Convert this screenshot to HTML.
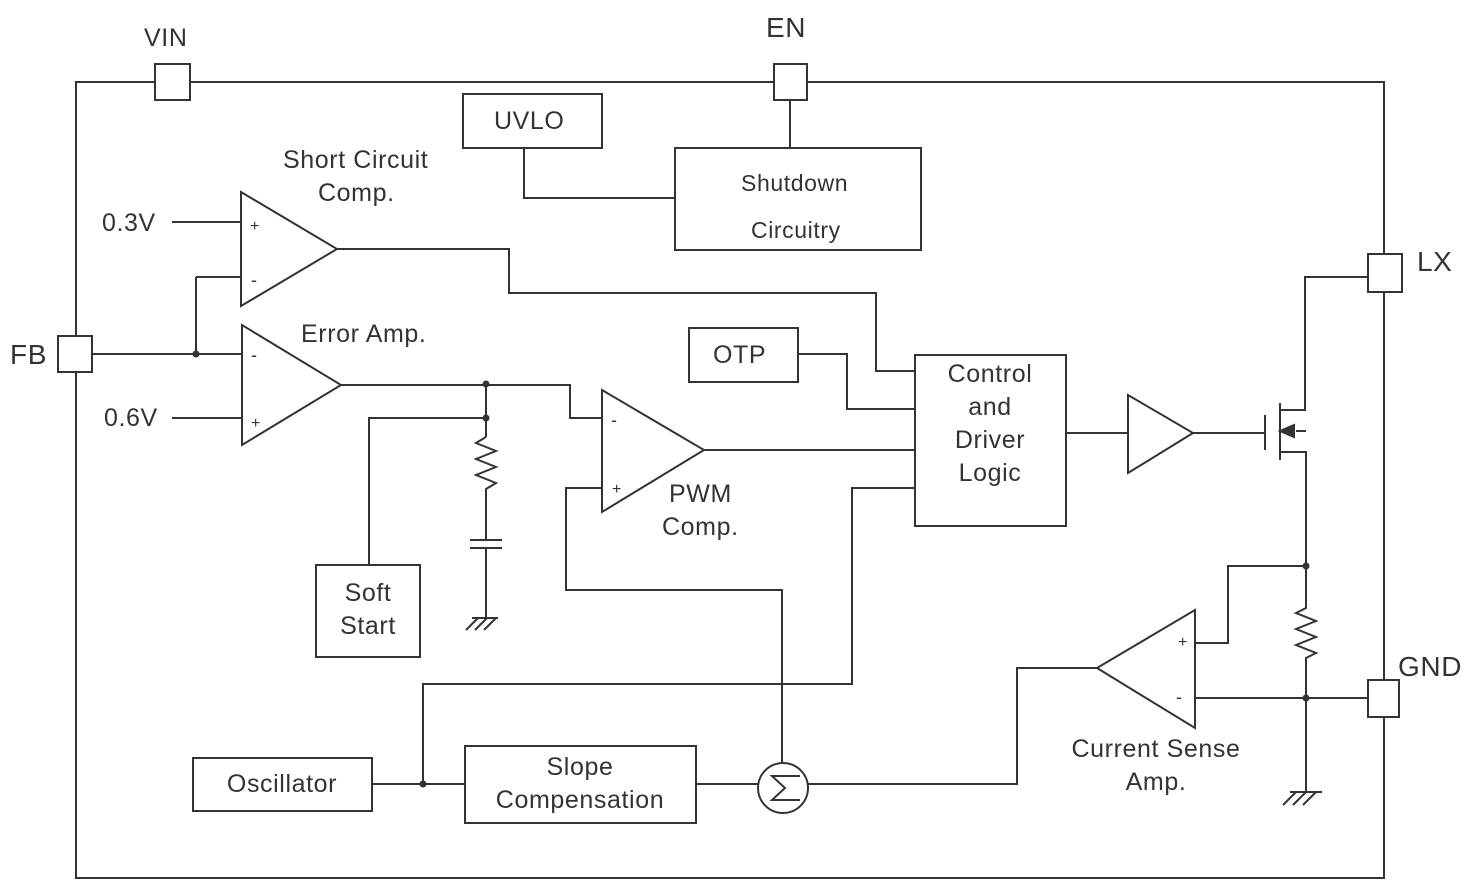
<!DOCTYPE html>
<html><head><meta charset="utf-8"><style>
html,body{margin:0;padding:0;background:#fff;}
svg{display:block;}
text{font-family:"Liberation Sans",sans-serif;fill:#333;letter-spacing:0.6px;}
</style></head><body>
<svg width="1479" height="882" viewBox="0 0 1479 882" xmlns="http://www.w3.org/2000/svg">
<g fill="none" stroke="#333" stroke-width="2">
<rect x="76" y="82" width="1308" height="796"/>
<rect x="155" y="64" width="35" height="36" fill="#fff"/>
<rect x="774" y="64" width="33" height="36" fill="#fff"/>
<rect x="1368" y="254" width="34" height="38" fill="#fff"/>
<rect x="58" y="336" width="34" height="36" fill="#fff"/>
<rect x="1368" y="680" width="31" height="37" fill="#fff"/>
<rect x="463" y="94" width="139" height="54"/>
<rect x="675" y="148" width="246" height="102"/>
<rect x="689" y="328" width="109" height="54"/>
<rect x="915" y="355" width="151" height="171"/>
<rect x="316" y="565" width="104" height="92"/>
<rect x="193" y="758" width="179" height="53"/>
<rect x="465" y="746" width="231" height="77"/>
<path d="M790 100 V148 M524 148 V198 H675"/>
<path d="M241 192 V306 L337 249 Z"/>
<path d="M242 325 V445 L341 385 Z"/>
<path d="M602 390 V512 L704 450 Z"/>
<path d="M1128 395 V473 L1193 433 Z"/>
<path d="M1195 610 V728 L1097 668 Z"/>
<path d="M172 222 H241 M196 277 H241 M196 277 V354 M92 354 H242 M172 418 H242"/>
<path d="M337 249 H509 V293 H876 V371 H915"/>
<path d="M341 385 H570 V418 H602 M486 385 V437 M486 418 H369 V565"/>
<path d="M486 437 l-10 6 l20 8 l-20 8 l20 8 l-20 8 l20 8 l-10 6 V540 M470 540 H502 M470 548 H502 M486 548 V618"/>
<path d="M472 618 H498 M478 618 l-12 12 M487 618 l-12 12 M496 618 l-12 12"/>
<path d="M798 354 H847 V409 H915"/>
<path d="M704 450 H915"/>
<path d="M602 488 H566 V590 H782 V763"/>
<path d="M915 488 H852 V684 H423 V784"/>
<path d="M372 784 H465 M696 784 H758 M808 784 H1017 V668 H1097"/>
<circle cx="783" cy="788" r="25"/>
<path d="M1066 433 H1128 M1193 433 H1265 M1265 415 V450 M1280 403 V460"/>
<path d="M1280 410 H1305 V277 H1368 M1280 452 H1306 V566 M1306 431 H1296"/>
<path d="M1280 431 L1294 425 L1294 437 Z" fill="#333"/>
<path d="M1306 566 H1228 V643 H1195"/>
<path d="M1306 566 V608 l-10 5 l20 8 l-20 8 l20 8 l-20 8 l20 8 l-10 5 V792 M1195 698 H1368"/>
<path d="M1290 792 H1322 M1296 792 l-13 13 M1306 792 l-13 13 M1316 792 l-13 13"/>
</g>
<g fill="#333">
<circle cx="196" cy="354" r="3.5"/>
<circle cx="486" cy="384" r="3.5"/>
<circle cx="486" cy="418" r="3.5"/>
<circle cx="423" cy="784" r="3.5"/>
<circle cx="1306" cy="566" r="3.5"/>
<circle cx="1306" cy="698" r="3.5"/>
</g>
<path d="M800 776 H772 L785 788 L772 800 H800" fill="none" stroke="#333" stroke-width="2"/>
<g font-size="25">
<text x="144" y="46">VIN</text>
<text x="766" y="37" font-size="28">EN</text>
<text x="1417" y="271" font-size="28">LX</text>
<text x="10" y="364" font-size="28">FB</text>
<text x="1398" y="676" font-size="28">GND</text>
<text x="494" y="129">UVLO</text>
<text x="741" y="191" font-size="23">Shutdown</text>
<text x="751" y="238" font-size="23">Circuitry</text>
<text x="283" y="168">Short Circuit</text>
<text x="318" y="201">Comp.</text>
<text x="102" y="231">0.3V</text>
<text x="104" y="426">0.6V</text>
<text x="301" y="342">Error Amp.</text>
<text x="713" y="363">OTP</text>
<text x="990" y="382" text-anchor="middle">Control</text>
<text x="990" y="415" text-anchor="middle">and</text>
<text x="990" y="448" text-anchor="middle">Driver</text>
<text x="990" y="481" text-anchor="middle">Logic</text>
<text x="669" y="502">PWM</text>
<text x="662" y="535">Comp.</text>
<text x="368" y="601" text-anchor="middle">Soft</text>
<text x="368" y="634" text-anchor="middle">Start</text>
<text x="282" y="792" text-anchor="middle">Oscillator</text>
<text x="580" y="775" text-anchor="middle">Slope</text>
<text x="580" y="808" text-anchor="middle">Compensation</text>
<text x="1156" y="757" text-anchor="middle">Current Sense</text>
<text x="1156" y="790" text-anchor="middle">Amp.</text>
<text x="250" y="231" font-size="16">+</text>
<text x="251" y="286" font-size="18">-</text>
<text x="251" y="361" font-size="18">-</text>
<text x="251" y="428" font-size="16">+</text>
<text x="611" y="426" font-size="18">-</text>
<text x="612" y="494" font-size="16">+</text>
<text x="1178" y="647" font-size="16">+</text>
<text x="1176" y="703" font-size="18">-</text>
</g>
</svg>
</body></html>
